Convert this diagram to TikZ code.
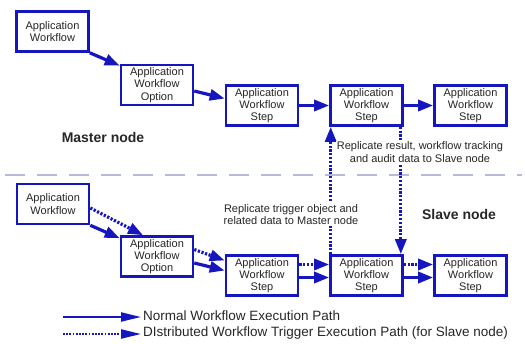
\documentclass[tikz,border=0pt]{standalone}
\usepackage{fontspec}
\setmainfont{Liberation Sans}
\usetikzlibrary{arrows.meta,calc}
\definecolor{wfblue}{RGB}{22,22,190}
\definecolor{sepgray}{RGB}{182,188,214}
\begin{document}
\begin{tikzpicture}[x=1pt,y=-1pt,
  wfbox/.style={draw=wfblue, line width=2.6pt, minimum width=72pt, minimum height=40pt,
    align=center, font=\fontsize{11}{12.3}\selectfont, inner sep=1pt, fill=white, text=black!85},
  normal/.style={draw=wfblue, line width=3.2pt, -{Triangle[length=15pt,width=11pt]}},
  distr/.style={normal, dash pattern=on 2.2pt off 1.6pt},
  legnormal/.style={draw=wfblue, line width=2.2pt, -{Triangle[length=20pt,width=9pt]}},
  legdistr/.style={legnormal, dash pattern=on 1.8pt off 1.4pt},
  note/.style={font=\fontsize{11}{12.3}\selectfont, align=center, fill=white, inner sep=1pt, text=black!85},
  region/.style={font=\bfseries\fontsize{14}{16}\selectfont, text=black!85},
  legtext/.style={font=\fontsize{13.5}{15}\selectfont, anchor=west, inner sep=2pt, text=black!85}]
\useasboundingbox (0,0) rectangle (525,343);

% master row
\node[wfbox] (aw1)  at (52.5,31.5)  {Application\\Workflow};
\node[wfbox] (awo1) at (157,85)     {Application\\Workflow\\Option};
\node[wfbox] (aws1) at (262,105.5)  {Application\\Workflow\\Step};
\node[wfbox] (aws2) at (366.5,105.5){Application\\Workflow\\Step};
\node[wfbox] (aws3) at (470.5,105.5){Application\\Workflow\\Step};

% slave row
\node[wfbox] (aw4)  at (53,204)     {Application\\Workflow};
\node[wfbox] (awo4) at (157,256.5)  {Application\\Workflow\\Option};
\node[wfbox] (aws4) at (262,275.5)  {Application\\Workflow\\Step};
\node[wfbox] (aws5) at (366.5,275.5){Application\\Workflow\\Step};
\node[wfbox] (aws6) at (470.5,275.5){Application\\Workflow\\Step};

% separator
\coordinate (sepL) at (5,175);
\coordinate (sepR) at (522,175);
\draw[sepgray, line width=1.4pt, dash pattern=on 20pt off 12pt] (sepL) -- (sepR);

% replication connectors
\draw[distr] ($(aws5.north west)+(1.5,0)$) -- ($(aws2.south west)+(1.5,0)$);
\draw[distr] ($(aws2.south east)+(-3,0)$) -- ($(aws5.north east)+(-3,0)$);

% labels
\node[region] (master) at (103,137) {Master node};
\node[region] (slave)  at (459,214) {Slave node};
\node[note] (rep1) at (420,152) {Replicate result, workflow tracking\\and audit data to Slave node};
\node[note] (rep2) at (291,214.5) {Replicate trigger object and\\related data to Master node};

% master arrows
\draw[normal] (aw1.south east) -- ($(awo1.north west)+(0,2)$);
\draw[normal] ($(awo1.east)+(0,6)$) -- ($(aws1.west)+(0,-7)$);
\draw[normal] (aws1.east) -- (aws2.west);
\draw[normal] (aws2.east) -- (aws3.west);

% slave arrows
\draw[distr]  ($(aw4.east)+(0,4)$) -- ($(awo4.north)+(-14,0)$);
\draw[normal] (aw4.south east) -- ($(awo4.north west)+(0,3)$);
\draw[distr]  ($(awo4.east)+(0,-7)$) -- ($(aws4.west)+(0,-15)$);
\draw[normal] ($(awo4.east)+(0,6.5)$) -- ($(aws4.west)+(0,-5)$);
\draw[distr]  ($(aws4.east)+(0,-11)$) -- ($(aws5.west)+(0,-11)$);
\draw[normal] ($(aws4.east)+(0,2)$) -- ($(aws5.west)+(0,2)$);
\draw[distr]  ($(aws5.east)+(0,-11)$) -- ($(aws6.west)+(0,-11)$);
\draw[normal] ($(aws5.east)+(0,2)$) -- ($(aws6.west)+(0,2)$);

% legend
\node[legtext] (leg1) at (141,316) {Normal Workflow Execution Path};
\node[legtext] (leg2) at (141,333) {DIstributed Workflow Trigger Execution Path (for Slave node)};
\coordinate (l1a) at (63,317);
\coordinate (l2a) at (63,334);
\draw[legnormal] (l1a) -- (l1a -| leg1.west);
\draw[legdistr]  (l2a) -- (l2a -| leg2.west);
\end{tikzpicture}
\end{document}
